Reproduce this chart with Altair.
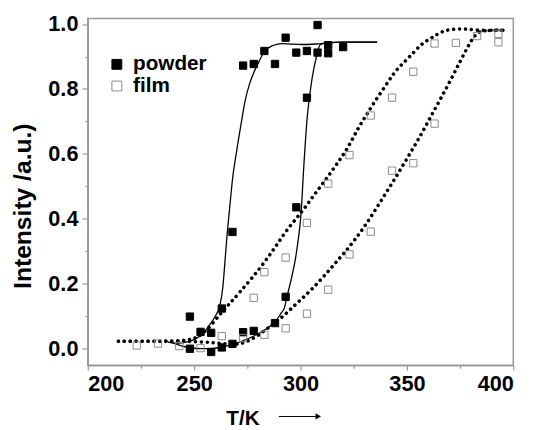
import altair as alt
import pandas as pd

powder_T = [248, 248, 253, 258, 258, 263, 263, 268, 268, 273, 273, 278, 278, 283,
            288, 288, 293, 293, 298, 298, 303, 303, 308, 308, 313, 313, 320]
powder_I = [0.098, -0.001, 0.051, 0.048, -0.011, 0.123, 0.003, 0.359, 0.014, 0.872,
            0.050, 0.877, 0.054, 0.917, 0.877, 0.078, 0.958, 0.159, 0.912, 0.435,
            0.917, 0.773, 0.997, 0.912, 0.935, 0.910, 0.929]

film_T = [223, 233, 243, 253, 263, 273, 283, 293, 303, 313, 323, 333, 343, 353, 363, 383, 393,
          393, 373, 363, 353, 343, 333, 323, 313, 303, 293, 283, 278]
film_I = [0.009, 0.015, 0.007, 0.001, 0.038, 0.032, 0.042, 0.062, 0.107, 0.181, 0.290, 0.360,
          0.548, 0.571, 0.693, 0.963, 0.970,
          0.944, 0.942, 0.940, 0.853, 0.773, 0.718, 0.596, 0.508, 0.387, 0.280, 0.235, 0.156]

# ---- fitted curves ----
fit_powder_cool_T = [240, 245, 250, 254, 257, 260, 262, 263.5, 264.5, 265.6, 266.5, 268, 270,
                     272, 274, 276, 278, 280.5, 283, 287, 291.5, 296, 301, 308.5, 319, 336]
fit_powder_cool_I = [0.016, 0.018, 0.027, 0.045, 0.07, 0.1, 0.13, 0.19, 0.27, 0.36, 0.42, 0.52,
                     0.61, 0.69, 0.765, 0.815, 0.85, 0.885, 0.915, 0.934, 0.94, 0.938, 0.937,
                     0.939, 0.944, 0.944]

fit_powder_heat_T = [237.5, 240, 244, 248.3, 253, 257.5, 262, 266.8, 271, 276, 280, 283.8,
                     288.4, 291, 292.3, 293.8, 295.5, 297.7, 299, 300.2, 301.5, 303.1, 305.4,
                     307.5, 309.3, 312, 320, 336]
fit_powder_heat_I = [0.02, 0.016, 0.008, 0.002, -0.001, -0.001, 0.003, 0.01, 0.019, 0.032,
                     0.045, 0.06, 0.085, 0.11, 0.123, 0.164, 0.21, 0.28, 0.34, 0.412, 0.558,
                     0.71, 0.831, 0.9, 0.937, 0.942, 0.944, 0.944]

fit_film_cool_T = [214.4, 225, 235, 245, 249, 252.9, 258, 263, 267, 271.5, 277, 283, 288.4,
                   294, 300.8, 306, 311.6, 317, 322.4, 327, 331, 334.7, 340, 344, 349, 353.2,
                   357, 361, 364, 367.1, 370, 374, 378, 382.5, 388, 395.7]
fit_film_cool_I = [0.022, 0.022, 0.022, 0.024, 0.028, 0.038, 0.07, 0.113, 0.14, 0.174, 0.215,
                   0.265, 0.315, 0.37, 0.422, 0.47, 0.518, 0.568, 0.619, 0.679, 0.72, 0.76,
                   0.81, 0.851, 0.885, 0.912, 0.94, 0.955, 0.968, 0.978, 0.983, 0.985, 0.985,
                   0.981, 0.98, 0.981]

fit_film_heat_T = [214.4, 225, 235, 245, 255, 262, 268, 272, 276, 280, 283.8, 288, 292, 296,
                   300, 305, 310, 315, 320, 325, 330, 335, 340, 345, 350, 355, 360, 365, 370,
                   375, 379, 382, 385, 390, 395.7]
fit_film_heat_I = [0.022, 0.022, 0.022, 0.022, 0.02, 0.016, 0.012, 0.014, 0.024, 0.04, 0.058,
                   0.08, 0.1, 0.125, 0.15, 0.18, 0.215, 0.253, 0.29, 0.33, 0.375, 0.425, 0.478,
                   0.53, 0.585, 0.64, 0.7, 0.76, 0.82, 0.885, 0.935, 0.968, 0.979, 0.982, 0.981]

sample_names = ["powder", "film"]

# ---- tables ----
points = pd.concat([
    pd.DataFrame({"T": powder_T, "I": powder_I, "sample": "powder"}),
    pd.DataFrame({"T": film_T, "I": film_I, "sample": "film"}),
], ignore_index=True)

solid = pd.concat([
    pd.DataFrame({"T": fit_powder_cool_T, "I": fit_powder_cool_I, "curve": "cool"}),
    pd.DataFrame({"T": fit_powder_heat_T, "I": fit_powder_heat_I, "curve": "heat"}),
], ignore_index=True)

dotted = pd.concat([
    pd.DataFrame({"T": fit_film_cool_T, "I": fit_film_cool_I, "curve": "cool"}),
    pd.DataFrame({"T": fit_film_heat_T, "I": fit_film_heat_I, "curve": "heat"}),
], ignore_index=True)

FONT = "Liberation Sans"
GRAY = "#9a9a9a"

x_scale = alt.Scale(domain=[200, 400], nice=False, zero=False)
y_scale = alt.Scale(domain=[-0.052, 1.017], nice=False, zero=False)

x_axis = alt.Axis(
    values=list(range(200, 401, 25)),
    labelExpr="datum.value % 50 == 0 ? datum.label : ''",
    format="d",
    tickSize={"condition": {"test": "datum.value % 50 == 0", "value": 5}, "value": 3},
    labelPadding=4,
    title="T/K",
    titleX=157, titleY=60, titleBaseline="alphabetic", titleAlign="center",
    titleFontSize=21,
)
y_axis = alt.Axis(
    values=[0.0, 0.1, 0.2, 0.3, 0.4, 0.5, 0.6, 0.7, 0.8, 0.9, 1.0],
    labelExpr="round(datum.value * 10) % 2 == 0 ? format(datum.value, '.1f') : ''",
    tickSize={"condition": {"test": "round(datum.value * 10) % 2 == 0", "value": 6}, "value": 3},
    labelPadding=4,
    title="Intensity /a.u.)",
    titleX=-58, titleY=190, titleBaseline="alphabetic", titleAlign="center", titleAngle=-90,
    titleFontSize=25,
)

X = alt.X("T:Q", scale=x_scale, axis=x_axis)
Y = alt.Y("I:Q", scale=y_scale, axis=y_axis)

dotted_layer = alt.Chart(dotted).mark_line(
    color="black", strokeWidth=3.6, strokeCap="round", strokeDash=[0.01, 6.0],
    interpolate="basis"
).encode(x=X, y=Y, detail="curve:N")

solid_layer = alt.Chart(solid).mark_line(
    color="black", strokeWidth=1.3, interpolate="monotone"
).encode(x=X, y=Y, detail="curve:N")

points_layer = alt.Chart(points).mark_point(
    shape="square", size=55, strokeWidth=1, opacity=1
).encode(
    x=X, y=Y,
    fill=alt.Fill("sample:N", scale=alt.Scale(domain=sample_names, range=["black", "transparent"]),
                  legend=alt.Legend(title=None)),
    stroke=alt.Stroke("sample:N", scale=alt.Scale(domain=sample_names, range=["black", "#8a8a8a"]),
                      legend=alt.Legend(title=None)),
)

arrow_data = alt.Data(values=[{}])
arrow_line = alt.Chart(arrow_data).mark_rule(color="black", strokeWidth=1).encode(
    x=alt.value(194), x2=alt.value(233), y=alt.value(404)
)
arrow_head = alt.Chart(arrow_data).mark_point(
    shape="triangle-right", filled=True, color="black", size=40, opacity=1
).encode(x=alt.value(234), y=alt.value(404))

chart = alt.layer(dotted_layer, solid_layer, points_layer, arrow_line, arrow_head).properties(
    width=432, height=352,
    autosize=alt.AutoSizeParams(type="none"),
    padding={"left": 81, "top": 7.5, "right": 20, "bottom": 62},
).configure_view(
    stroke=GRAY, strokeWidth=1.5
).configure_axis(
    grid=False, domainColor=GRAY, domainWidth=1.5, tickColor=GRAY, tickWidth=1.2,
    labelFont=FONT, labelFontSize=22, labelFontWeight="bold", labelColor="black",
    titleFont=FONT, titleFontWeight="bold", titleColor="black",
).configure_legend(
    orient="none", legendX=19, legendY=36, padding=0,
    labelFont=FONT, labelFontSize=21, labelFontWeight="bold", labelColor="black",
    symbolSize=100, symbolStrokeWidth=1, labelOffset=6, rowPadding=0,
)

chart.save("out.html", embed_options={"renderer": "svg", "actions": False})
